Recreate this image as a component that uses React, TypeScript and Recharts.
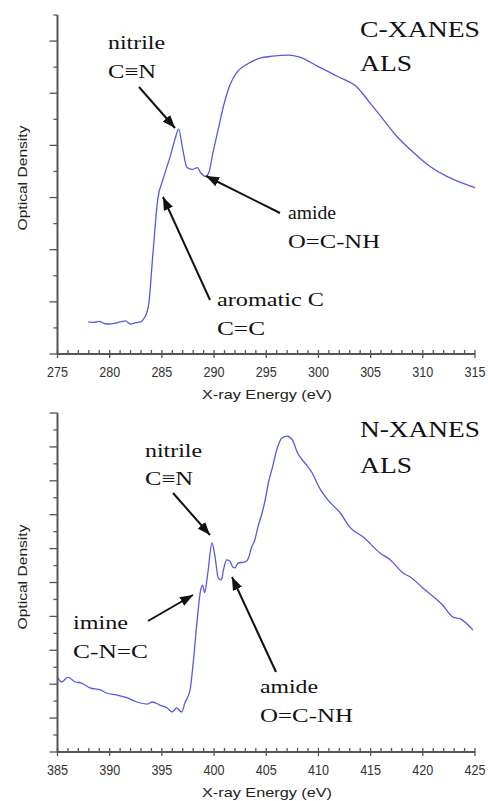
import { Line, LineChart, XAxis, YAxis } from "recharts"

// C K-edge spectrum (eV, optical density in minor-tick units)
const carbonEnergy = [
    277.95, 278.5, 279, 279.5, 280, 280.5, 281, 281.5, 282, 282.5, 283, 283.2, 283.7, 284.15, 284.6, 285.1,
    285.8, 286.25, 286.6, 287.0, 287.4, 287.9, 288.4, 288.7, 289.2, 289.5, 289.9, 290.4, 290.9, 291.5,
    292.2, 293.2, 294.4, 295.6, 297.1, 298.2, 299.9, 301.8, 303.7, 304.9, 306.2, 307.5, 309.1, 310.7,
    312.3, 313.6, 315.0,
]
const carbonDensity = [
    1.23, 1.21, 1.25, 1.17, 1.15, 1.18, 1.23, 1.27, 1.15, 1.2, 1.23, 1.31, 1.81, 3.88, 5.92, 6.69,
    7.58, 8.23, 8.62, 7.85, 7.15, 7.08, 7.15, 6.96, 6.81, 6.96, 7.73, 8.62, 9.5, 10.3,
    10.81, 11.12, 11.35, 11.42, 11.46, 11.38, 11.04, 10.65, 10.23, 9.65, 9.0, 8.35, 7.73, 7.19,
    6.81, 6.58, 6.38,
]

// N K-edge spectrum
const nitrogenEnergy = [
    385.0, 385.4, 386.0, 386.7, 387.3, 388.1, 389.1, 389.7, 390.7, 391.7, 392.6, 393.6, 394.1, 394.8,
    395.5, 396.0, 396.4, 396.9, 397.2, 397.7, 398.0, 398.4, 398.7, 398.9, 399.1, 399.4, 399.8, 400.1,
    400.4, 400.7, 400.9, 401.2, 401.5, 401.8, 402.0, 402.3, 403.0, 403.3, 403.6, 403.9, 404.2, 404.6,
    404.9, 405.2, 405.6, 406.0, 406.5, 407.0, 407.5, 408.0, 408.7, 409.4, 410.1, 410.9, 412.1, 413.0,
    414.3, 415.9, 416.9, 418.1, 418.8, 420.0, 421.9, 422.9, 423.6, 424.8,
]
const nitrogenDensity = [
    4.42, 4.13, 4.42, 4.13, 4.07, 3.78, 3.66, 3.48, 3.36, 3.19, 2.95, 2.83, 2.95, 2.77,
    2.6, 2.36, 2.6, 2.36, 2.89, 3.66, 5.25, 7.9, 9.5, 9.85, 9.4, 10.56, 12.33, 11.5,
    10.27, 10.15, 10.74, 11.33, 11.27, 10.91, 10.86, 11.15, 11.21, 11.45, 12.09, 12.5, 13.27, 14.1,
    14.87, 15.87, 16.81, 17.82, 18.53, 18.64, 18.41, 17.64, 17.05, 16.46, 15.58, 14.87, 14.1, 13.27,
    12.68, 11.74, 11.33, 10.56, 10.32, 9.68, 8.67, 7.96, 7.85, 7.2,
]

const carbonMajorTicks = [275, 280, 285, 290, 295, 300, 305, 310, 315]
const nitrogenMajorTicks = [385, 390, 395, 400, 405, 410, 415, 420, 425]

const minorTicks = (major: number[]) => {
    const out: number[] = []
    for (let v = major[0]; v <= major[major.length - 1]; v++) out.push(v)
    return out
}
const yTicks = (n: number) => Array.from({ length: n + 1 }, (_, i) => i)

const carbonData = carbonEnergy.map((e, i) => ({ e, od: carbonDensity[i] }))
const nitrogenData = nitrogenEnergy.map((e, i) => ({ e, od: nitrogenDensity[i] }))

const LINE = "#5858e4"
const AXIS = "#555"
const SANS = "'Liberation Sans', Arial, sans-serif"
const SERIF = "Times New Roman, Times, serif"

const makeXTick = (major: number[]) => (props: any) => {
    const { x, y, payload } = props
    const isMajor = major.includes(payload.value)
    return (
        <g>
            <line x1={x} x2={x} y1={y - 4} y2={isMajor ? y + 4 : y} stroke={AXIS} strokeWidth={1.3} />
            {isMajor && (
                <text x={x} y={y + 23} textAnchor="middle" style={{ fontFamily: SANS }} fontSize={14} fill="#333"
                    textLength={21} lengthAdjust="spacingAndGlyphs">
                    {payload.value}
                </text>
            )}
        </g>
    )
}

const YTick = (props: any) => {
    const { x, y, payload } = props
    const isMajor = payload.value % 2 === 0
    return <line x1={x} x2={x - (isMajor ? 8 : 4)} y1={y} y2={y} stroke={AXIS} strokeWidth={1.3} />
}

function Spectrum({ data, major, yMax, height, top, xHeight }: any) {
    return (
        <LineChart width={488} height={height} data={data} margin={{ top, right: 13, bottom: 0, left: 0 }}>
            <XAxis
                dataKey="e"
                type="number"
                domain={[major[0], major[major.length - 1]]}
                ticks={minorTicks(major)}
                interval={0}
                height={xHeight}
                tickSize={0}
                tickMargin={0}
                tickLine={false}
                tick={makeXTick(major)}
                axisLine={{ stroke: AXIS, strokeWidth: 2 }}
            />
            <YAxis
                type="number"
                domain={[0, yMax]}
                ticks={yTicks(yMax)}
                interval={0}
                width={57.5}
                tickSize={0}
                tickMargin={0}
                tickLine={false}
                tick={YTick}
                axisLine={{ stroke: AXIS, strokeWidth: 2 }}
            />
            <Line type="monotone" dataKey="od" stroke={LINE} strokeWidth={1.3} dot={false} isAnimationActive={false} />
        </LineChart>
    )
}

const Label = ({ x, y, w, size = 19, children }: any) => (
    <text x={x} y={y} fontFamily={SERIF} fontSize={size} fill="#111" textLength={w}
        lengthAdjust="spacingAndGlyphs">
        {children}
    </text>
)

const Arrow = ({ from, to }: any) => (
    <line x1={from[0]} y1={from[1]} x2={to[0]} y2={to[1]} stroke="#111" strokeWidth={2} markerEnd="url(#head)" />
)

export default function App() {
    return (
        <div style={{ position: "absolute", left: 0, top: 0, width: 488, height: 801, background: "#fff" }}>
            <div style={{ position: "absolute", left: 0, top: 0 }}>
                <Spectrum data={carbonData} major={carbonMajorTicks} yMax={13} height={400} top={15} xHeight={46} />
            </div>
            <div style={{ position: "absolute", left: 0, top: 400 }}>
                <Spectrum data={nitrogenData} major={nitrogenMajorTicks} yMax={20} height={401} top={13} xHeight={49} />
            </div>
            <svg width={488} height={801} style={{ position: "absolute", left: 0, top: 0, pointerEvents: "none" }}>
                <defs>
                    <marker id="head" markerUnits="userSpaceOnUse" markerWidth={14} markerHeight={10}
                        refX={13} refY={5} orient="auto">
                        <path d="M0,0 L13,5 L0,10 Z" fill="#111" />
                    </marker>
                </defs>

                {/* top panel */}
                <Label x={108} y={49} w={57}>nitrile</Label>
                <Label x={108} y={78} w={48}>C≡N</Label>
                <Arrow from={[139, 87]} to={[175, 128]} />
                <Label x={288} y={219} w={48}>amide</Label>
                <Label x={288} y={248} w={92}>O=C-NH</Label>
                <Arrow from={[280, 213]} to={[206, 176]} />
                <Label x={217} y={306} w={107}>aromatic C</Label>
                <Label x={217} y={335} w={48}>C=C</Label>
                <Arrow from={[210, 300]} to={[163, 197]} />
                <Label x={360} y={37} w={120} size={24}>C-XANES</Label>
                <Label x={360} y={71} w={52} size={24}>ALS</Label>

                {/* bottom panel */}
                <Label x={145} y={457} w={57}>nitrile</Label>
                <Label x={145} y={485} w={48}>C≡N</Label>
                <Arrow from={[173, 493]} to={[210, 535]} />
                <Label x={73} y={629} w={55}>imine</Label>
                <Label x={73} y={658} w={75}>C-N=C</Label>
                <Arrow from={[148, 621]} to={[193, 595]} />
                <Label x={260} y={693} w={58}>amide</Label>
                <Label x={260} y={722} w={93}>O=C-NH</Label>
                <Arrow from={[276, 672]} to={[232, 577]} />
                <Label x={360} y={437} w={120} size={24}>N-XANES</Label>
                <Label x={360} y={473} w={52} size={24}>ALS</Label>

                {/* axis titles */}
                {[399, 797].map((y) => (
                    <text key={y} x={267} y={y} textAnchor="middle" style={{ fontFamily: SANS }} fontSize={13.5}
                        fill="#222" textLength={130} lengthAdjust="spacingAndGlyphs">
                        X-ray Energy (eV)
                    </text>
                ))}
                {[178, 577].map((cy) => (
                    <text key={cy} transform={`translate(27, ${cy}) rotate(-90)`} textAnchor="middle"
                        style={{ fontFamily: SANS }} fontSize={13.5} fill="#222" textLength={105}
                        lengthAdjust="spacingAndGlyphs">
                        Optical Density
                    </text>
                ))}
            </svg>
        </div>
    )
}
